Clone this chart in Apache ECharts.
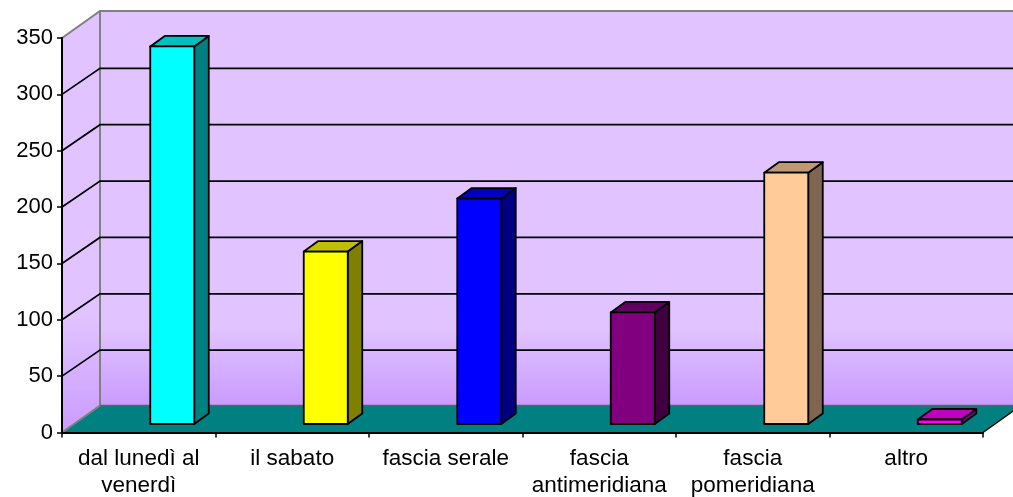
<!DOCTYPE html>
<html>
<head>
<meta charset="utf-8">
<style>
  html, body { margin: 0; padding: 0; background: #fff; }
  #chart { width: 1013px; height: 497px; }
</style>
<script src="https://cdn.jsdelivr.net/npm/echarts@6/dist/echarts.min.js"></script>
</head>
<body>
<div id="chart"></div>
<script>
const categories = ['dal lunedì al\nvenerdì', 'il sabato', 'fascia serale', 'fascia\nantimeridiana', 'fascia\npomeridiana', 'altro']
const values = [335, 153, 200, 99, 223, 4]
const gridValues = [50, 100, 150, 200, 250, 300]

// front, side, top colours of each bar
const frontColors = ['#00FFFF', '#FFFF00', '#0000FF', '#800080', '#FFCC99', '#FF00FF']
const sideColors = ['#008080', '#808000', '#000080', '#400040', '#806650', '#800080']
const topColors = ['#00BFBF', '#BFBF00', '#0000BF', '#600060', '#BF9973', '#BF00BF']

// 3d offsets in px
const WALL_DX = 38
const WALL_DY = 27
const GRID_DY = 26
const BAR_DX = 14.5
const BAR_DY = 10.5
const BAR_WIDTH = 44
const BAR_SHIFT = 33.5
const BAR_LIFT = 8.5

const wallGradient = (from) => new echarts.graphic.LinearGradient(0, 0, 0, 1, [
  { offset: 0, color: '#E1C4FF' },
  { offset: from, color: '#E1C4FF' },
  { offset: 1, color: '#CA9BFF' }
])

// walls and floor
const renderWalls = (params) => {
  const cs = params.coordSys
  const l = cs.x, t = cs.y, r = cs.x + cs.width, b = cs.y + cs.height
  const border = { stroke: '#808080', lineWidth: 2 }
  return {
    type: 'group',
    children: [
      { type: 'polygon', shape: { points: [[l + WALL_DX, t - WALL_DY], [r + WALL_DX, t - WALL_DY], [r + WALL_DX, b - WALL_DY], [l + WALL_DX, b - WALL_DY]] }, style: { fill: wallGradient(0.8) } },
      { type: 'polygon', shape: { points: [[l, t], [l + WALL_DX, t - WALL_DY], [l + WALL_DX, b - WALL_DY], [l, b]] }, style: { fill: wallGradient(0.72) } },
      { type: 'polygon', shape: { points: [[l, b], [l + WALL_DX, b - WALL_DY], [r + WALL_DX, b - WALL_DY], [r, b]] }, style: { fill: '#008080' } },
      { type: 'polyline', shape: { points: [[l, t], [l + WALL_DX, t - WALL_DY], [r + WALL_DX, t - WALL_DY]] }, style: { fill: null, ...border } },
      { type: 'polyline', shape: { points: [[l, b], [l + WALL_DX, b - WALL_DY], [l + WALL_DX, t - WALL_DY]] }, style: { fill: null, ...border } },
      { type: 'line', shape: { x1: l + WALL_DX, y1: b - WALL_DY, x2: r + WALL_DX, y2: b - WALL_DY }, style: { stroke: '#606060', lineWidth: 1.5 } },
      { type: 'line', shape: { x1: r, y1: b, x2: r + WALL_DX, y2: b - WALL_DY }, style: { stroke: '#000', lineWidth: 1.5 } }
    ]
  }
}

// gridlines run over the side wall and the back wall
const renderGridLine = (params, api) => {
  const cs = params.coordSys
  const y = api.coord([0, api.value(0)])[1]
  return {
    type: 'polyline',
    shape: { points: [[cs.x, y], [cs.x + WALL_DX, y - GRID_DY], [cs.x + cs.width + WALL_DX, y - GRID_DY]] },
    style: { fill: null, stroke: '#000', lineWidth: 1.7 }
  }
}

const renderBar = (params, api) => {
  const i = params.dataIndex
  const center = api.coord([i, 0])
  const top = api.coord([i, api.value(1)])
  const x0 = center[0] + BAR_SHIFT - BAR_WIDTH / 2
  const x1 = x0 + BAR_WIDTH
  const y0 = top[1] - BAR_LIFT
  const y1 = center[1] - BAR_LIFT
  const edge = { stroke: '#000', lineWidth: 1.8, lineJoin: 'round' }
  return {
    type: 'group',
    children: [
      { type: 'polygon', shape: { points: [[x1, y0], [x1 + BAR_DX, y0 - BAR_DY], [x1 + BAR_DX, y1 - BAR_DY], [x1, y1]] }, style: { fill: sideColors[i], ...edge } },
      { type: 'polygon', shape: { points: [[x0, y0], [x0 + BAR_DX, y0 - BAR_DY], [x1 + BAR_DX, y0 - BAR_DY], [x1, y0]] }, style: { fill: topColors[i], ...edge } },
      { type: 'polygon', shape: { points: [[x0, y0], [x1, y0], [x1, y1], [x0, y1]] }, style: { fill: frontColors[i], ...edge } }
    ]
  }
}

const chart = echarts.init(document.getElementById('chart'))
chart.setOption({
  animation: false,
  backgroundColor: '#fff',
  textStyle: { fontFamily: '"Liberation Sans", Arial, sans-serif' },
  grid: { left: 62, top: 38, width: 921, height: 394.5, outerBoundsMode: 'none' },
  xAxis: {
    type: 'category',
    data: categories,
    z: 10,
    axisLine: { lineStyle: { color: '#000', width: 2 } },
    axisTick: { show: true, length: 5, lineStyle: { color: '#000', width: 1.5 } },
    axisLabel: { interval: 0, margin: 13, fontSize: 22.5, lineHeight: 27, color: '#000' }
  },
  yAxis: {
    type: 'value',
    min: 0,
    max: 350,
    interval: 50,
    z: 10,
    splitLine: { show: false },
    axisLine: { show: true, lineStyle: { color: '#000', width: 2 } },
    axisTick: { show: true, length: 5, lineStyle: { color: '#000', width: 1.5 } },
    axisLabel: { margin: 9, fontSize: 22, padding: [4, 0, 0, 0], color: '#000' }
  },
  series: [
    { type: 'custom', z: 1, silent: true, data: [0], renderItem: renderWalls },
    { type: 'custom', z: 2, silent: true, data: gridValues, renderItem: renderGridLine, encode: { y: 0 } },
    { type: 'custom', z: 3, data: values.map((v, i) => [i, v]), renderItem: renderBar, encode: { x: 0, y: 1 } }
  ]
})
</script>
</body>
</html>
